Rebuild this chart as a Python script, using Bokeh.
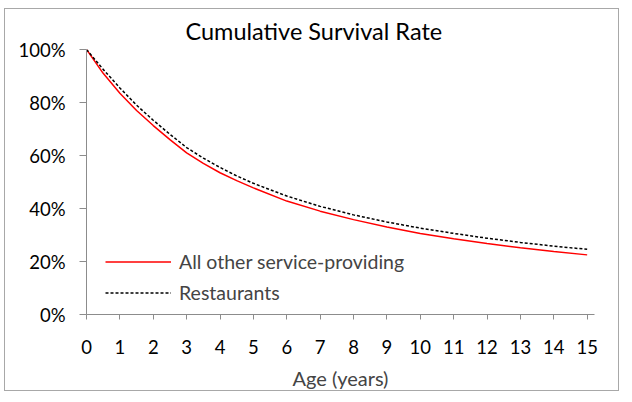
from bokeh.plotting import figure
from bokeh.models import Range1d, NumeralTickFormatter, FixedTicker, Legend, LegendItem, Title
from bokeh.embed import file_html
from bokeh.resources import INLINE

# Data
age_years = [0, 0.5, 1, 1.5, 2, 2.5, 3, 3.5, 4, 4.5, 5, 6, 7, 8, 9, 10, 11, 12, 13, 14, 15]
other_service = [1.000, 0.910, 0.835, 0.770, 0.713, 0.660, 0.610, 0.570, 0.535, 0.505, 0.478,
                 0.428, 0.390, 0.358, 0.330, 0.306, 0.286, 0.268, 0.252, 0.238, 0.225]
restaurants = [1.000, 0.925, 0.855, 0.790, 0.733, 0.680, 0.630, 0.590, 0.555, 0.523, 0.495,
               0.447, 0.408, 0.376, 0.349, 0.326, 0.306, 0.288, 0.272, 0.258, 0.246]
x_ticks = list(range(0, 16))
y_ticks = [0, 0.2, 0.4, 0.6, 0.8, 1.0]

FONT = "Lato"
GREY = "#8c8c8c"

p = figure(width=615, height=383, output_backend="svg", toolbar_location=None,
           x_range=Range1d(0, 15.22), y_range=Range1d(0, 1.0),
           min_border_left=81, min_border_right=26, min_border_top=40, min_border_bottom=76)
p.styles = {"border": "1px solid #a8a8a8", "margin-left": "4px", "margin-top": "8px"}
p.grid.visible = False
p.outline_line_color = None
p.background_fill_color = "white"

r1 = p.line(age_years, other_service, line_color="#ff0000", line_width=1.5)
r2 = p.line(age_years, restaurants, line_color="black", line_width=1.5, line_dash="3 2")

# axes
p.xaxis.ticker = FixedTicker(ticks=x_ticks)
p.yaxis.ticker = FixedTicker(ticks=y_ticks)
p.yaxis.formatter = NumeralTickFormatter(format="0%")
for ax in (p.xaxis[0], p.yaxis[0]):
    ax.axis_line_color = GREY
    ax.major_tick_line_color = GREY
    ax.minor_tick_line_color = None
    ax.major_tick_in = 0
    ax.major_label_text_font = FONT
    ax.major_label_text_font_size = "18.5px"
    ax.major_label_text_color = "black"
p.xaxis.major_tick_out = 5
p.yaxis.major_tick_out = 7
p.xaxis.major_label_standoff = 20
p.yaxis.major_label_standoff = 14
p.xaxis.axis_label = "Age (years)"
p.xaxis.axis_label_text_font = FONT
p.xaxis.axis_label_text_font_size = "20px"
p.xaxis.axis_label_text_font_style = "normal"
p.xaxis.axis_label_standoff = 9

# title
t = Title(text="Cumulative Survival Rate", align="left", offset=99,
          text_font=FONT, text_font_size="23.5px", text_font_style="normal",
          text_color="black", standoff=10)
p.add_layout(t, "above")

legend = Legend(items=[LegendItem(label="All other service-providing", renderers=[r1]),
                       LegendItem(label="Restaurants", renderers=[r2])],
                location=(19, 6), glyph_width=66, glyph_height=31, label_height=31,
                spacing=0, padding=0, margin=0, label_standoff=8,
                label_text_font=FONT, label_text_font_size="19.5px",
                border_line_color=None, background_fill_alpha=0)
p.add_layout(legend)

open("out.html", "w").write(file_html(p, INLINE))
